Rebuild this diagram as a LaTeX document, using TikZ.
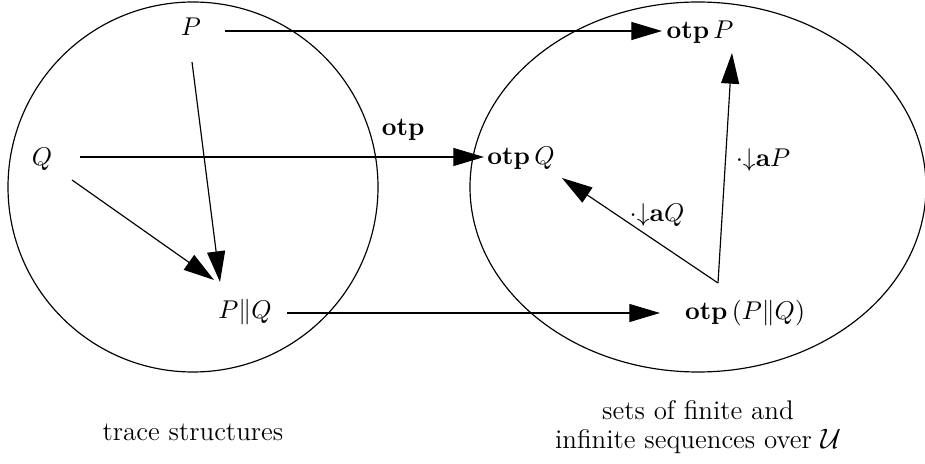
\documentclass[tikz,border=0pt]{standalone}
\usepackage{amsmath,amssymb}
\usetikzlibrary{arrows.meta,calc}

\begin{document}
\begin{tikzpicture}[
        x=0.015cm, y=-0.015cm,
        every node/.style={
            font=\fontsize{10.5pt}{12.5pt}\selectfont,
            inner sep=0pt
        },
        setborder/.style={
            draw=black,
            line width=0.5pt
        },
        caption/.style={
            align=center,
            font=\fontsize{11.5pt}{12.5pt}\selectfont
        },
        arrow/.style={
            -{Triangle[length=0.46cm,width=0.27cm]},
            line width=0.5pt
        }
    ]
    \useasboundingbox (0,0) rectangle (925,464);

    % the two domains
    \draw[setborder] (193,187) ellipse [x radius=185, y radius=185];
    \draw[setborder] (698,187) ellipse [x radius=228, y radius=185];

    % trace structures
    \node (P) at (191,27) {$P$};
    \node (Q) at (42,159) {$Q$};
    \node (PQ) at (245,312) {$P\|Q$};

    % sequences
    \node (otpP) at (700,32) {$\mathbf{otp}\,P$};
    \node (otpQ) at (521,158) {$\mathbf{otp}\,Q$};
    \node (otpPQ) at (745,313) {$\mathbf{otp}\,(P\|Q)$};
    \coordinate (base) at ([shift={(-27,-30)}]otpPQ.center);

    \draw[arrow] ([shift={(34,4)}]P.center) -- ([shift={(-38,-1)}]otpP.center);
    \draw[arrow] ([shift={(38,-2)}]Q.center) -- ([shift={(-37,-1)}]otpQ.center)
        node[pos=0.8, above=7pt] (otplabel) {$\mathbf{otp}$};
    \draw[arrow] ([shift={(1,35)}]P.center) -- ([shift={(-25,-30)}]PQ.center);
    \draw[arrow] ([shift={(30,21)}]Q.center) -- ([shift={(-31,-32)}]PQ.center);
    \draw[arrow] ([shift={(42,1)}]PQ.center) -- ([shift={(-85,0)}]otpPQ.center);

    \draw[arrow] (base) -- ([shift={(32,21)}]otpP.center);
    \draw[arrow] (base) -- ([shift={(41,20)}]otpQ.center);

    \node (projP) at (763,160) {$\cdot{\downarrow}\mathbf{a}P$};
    \node (projQ) at (657,215) {$\cdot{\downarrow}\mathbf{a}Q$};

    \node[caption] (leftcap) at (193,432) {trace structures};
    \node[caption] (rightcap) at (698,427)
        {sets of finite and\\
         infinite sequences over $\mathcal{U}$};

\end{tikzpicture}
\end{document}
